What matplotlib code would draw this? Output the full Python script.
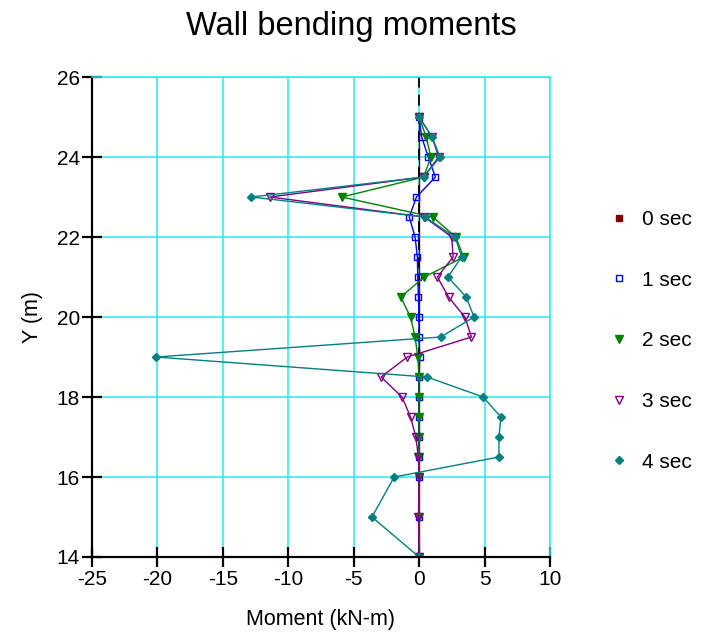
import matplotlib
matplotlib.use("Agg")
import matplotlib.pyplot as plt

plt.rcParams['font.family'] = ['Liberation Sans', 'DejaVu Sans']
plt.rcParams['axes.unicode_minus'] = False

depth = [25, 24.5, 24, 23.5, 23, 22.5, 22, 21.5, 21, 20.5, 20, 19.5, 19, 18.5, 18, 17.5, 17, 16.5, 16, 15, 14]
m_0sec = [0, 0, 0, 0, 0, 0, 0, 0, 0, 0, 0, 0, 0, 0, 0, 0, 0, 0, 0, 0, 0]
m_1sec = [0, 0.2, 0.7, 1.25, -0.2, -0.75, -0.3, -0.13, -0.1, -0.05, 0, 0, 0.05, 0, 0, 0, 0, 0, 0, 0, 0]
m_2sec = [0, 0.55, 0.9, 0.35, -5.9, 1.05, 2.8, 3.4, 0.4, -1.4, -0.65, -0.3, -0.1, 0, 0, 0, 0, 0, 0, 0, 0]
m_3sec = [0, 1.0, 1.5, 0.35, -11.4, 0.4, 2.5, 2.6, 1.4, 2.25, 3.5, 4.0, -0.9, -2.9, -1.3, -0.65, -0.25, -0.05, 0, -0.05, 0]
m_4sec = [0, 1.0, 1.6, 0.35, -12.8, 0.45, 2.75, 3.25, 2.2, 3.6, 4.2, 1.65, -20.1, 0.6, 4.9, 6.25, 6.1, 6.1, -1.9, -3.6, 0]

labels = ['0 sec', '1 sec', '2 sec', '3 sec', '4 sec']
x_ticks = [-25, -20, -15, -10, -5, 0, 5, 10]
y_ticks = [14, 16, 18, 20, 22, 24, 26]

fig = plt.figure(figsize=(7.06, 6.42), dpi=100)
ax = fig.add_axes([0.130, 0.1324, 0.649, 0.7476])

styles = [
    dict(color='#800000', marker='s', mfc='#800000', ms=4.5),
    dict(color='#0000FF', marker='s', mfc='none', ms=5, mew=1),
    dict(color='#008000', marker='v', mfc='#008000', ms=5.5),
    dict(color='#800080', marker='v', mfc='none', ms=5.5, mew=1),
    dict(color='#008080', marker='D', mfc='#008080', ms=3.8),
]
series = [m_0sec, m_1sec, m_2sec, m_3sec, m_4sec]

# 0 sec lies on the zero line and is hidden beneath it in the reference
ax.plot(m_0sec, depth, lw=1, color='#800000', zorder=1.2)
for vals, st, lab in list(zip(series, styles, labels))[1:]:
    ax.plot(vals, depth, lw=1, label=lab, zorder=2, **st)
ax.axvline(0, color='black', lw=1.3, ls=(0, (6, 4)), zorder=1.5)

ax.set_xlim(-25, 10)
ax.set_ylim(14, 26)
ax.set_xticks(x_ticks)
ax.set_yticks(y_ticks)
ax.grid(True, color='#22EEEE', lw=1.1)
ax.set_axisbelow(True)

for s in ['top', 'right']:
    ax.spines[s].set_color('#22EEEE')
    ax.spines[s].set_linewidth(1.1)
for s in ['left', 'bottom']:
    ax.spines[s].set_linewidth(1.6)
ax.tick_params(axis='both', direction='inout', length=15, width=1.6, labelsize=15)
ax.tick_params(axis='x', pad=2)
ax.tick_params(axis='y', pad=1)

ax.set_xlabel('Moment (kN-m)', fontsize=15.5, labelpad=14)
ax.set_ylabel('Y (m)', fontsize=15.5, labelpad=10)
fig.text(0.497, 0.958, 'Wall bending moments', ha='center', va='center', fontsize=23.5)

leg_handles = []
for st, lab in zip(styles, labels):
    h, = ax.plot([], [], ls='none', **st)
    leg_handles.append(h)
fig.legend(leg_handles, labels, loc='center left', bbox_to_anchor=(0.862, 0.469),
           frameon=False, fontsize=15, labelspacing=2.0, handlelength=1.0,
           handletextpad=0.6, borderpad=0, borderaxespad=0)

fig.savefig('out.png', dpi=100)
